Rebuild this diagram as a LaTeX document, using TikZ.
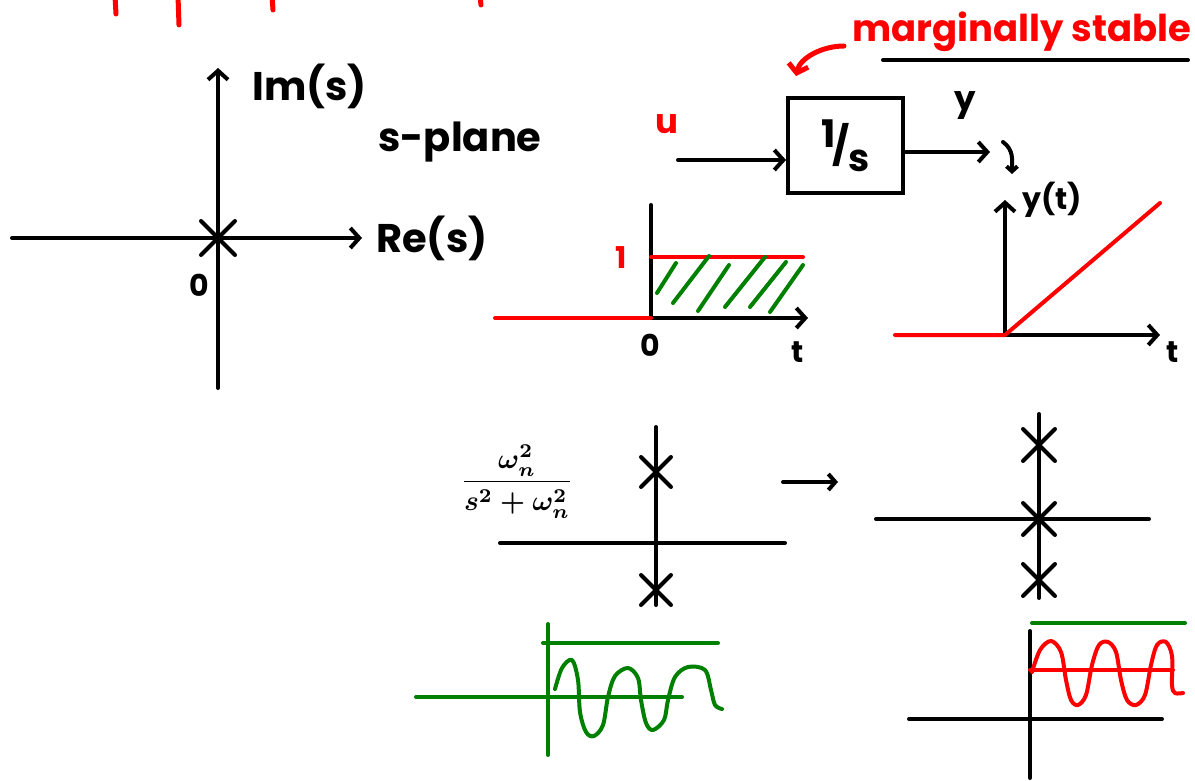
\documentclass[tikz,border=0pt]{standalone}
\usepackage{amsmath,bm}
\usepackage{fontspec}
\setmainfont{Poppins}
\usetikzlibrary{arrows.meta,positioning,shapes.misc}
\definecolor{inkred}{HTML}{FF0000}
\definecolor{inkgreen}{HTML}{008000}
\newcommand{\secondorder}{\scalebox{2.8}{\boldmath$\dfrac{\omega_n^2}{s^2+\omega_n^2}$}}
\tikzset{
  ink/.style={line width=4pt,line cap=round,line join=round},
  axisarrow/.style={ink,-{Straight Barb[length=9pt,width=20pt]}},
  polex/.style={cross out,draw,line width=4pt,line cap=round,minimum size=30pt,inner sep=0pt},
  hand/.style={font=\fontsize{40}{44}\selectfont\bfseries,inner sep=0pt},
  smallhand/.style={font=\fontsize{30}{34}\selectfont\bfseries,inner sep=0pt},
  blockbox/.style={draw,line width=4pt,minimum width=115pt,minimum height=95pt}
}

\begin{document}
\begin{tikzpicture}[x=1pt,y=-1pt]
\useasboundingbox (0,0) rectangle (1195,781);

% cut-off red writing at the top edge
\foreach \sx/\sl in {115/14,178/25,272/10,480/5}
  \draw[ink,inkred,line width=5pt] (\sx,-4) -- (\sx+1,\sl);

% s-plane
\coordinate (sOrig) at (218,238);
\coordinate (reLeft) at (12,238);
\coordinate (reTip) at (362,238);
\coordinate (imBot) at (218,388);
\coordinate (imTip) at (218,68);
\draw[axisarrow] (reLeft) -- (reTip);
\draw[axisarrow] (imBot) -- (imTip);
\node[polex] (p0) at (sOrig) {};
\node[hand,anchor=west] (imlab) at (252,86) {Im(s)};
\node[hand,right=14pt of reTip] (relab) {Re(s)};
\node[hand] (splane) at (460,142) {s-plane};
\node[smallhand] (zero1) at (199,285) {0};

% integrator block
\node[blockbox] (sys) at (845.5,145.5) {\fontsize{38}{40}\selectfont\bfseries\raisebox{12pt}{1}\hspace{-3pt}/\hspace{-2pt}\raisebox{-12pt}{s}};
\coordinate (uIn) at (678,160);
\coordinate (yOut) at (990,152);
\draw[axisarrow] (uIn) -- (uIn -| sys.west);
\draw[axisarrow] (sys.east |- yOut) -- (yOut);
\node[smallhand,inkred,font=\fontsize{34}{38}\selectfont\bfseries] (ulab) at (667,124) {u};
\node[smallhand,font=\fontsize{34}{38}\selectfont\bfseries] (ylab) at (965,106) {y};
\coordinate (hookA) at (1003,142);
\coordinate (hookB) at (1012,174);
\draw[ink,-{Straight Barb[length=5pt,width=11pt]}] (hookA) .. controls (1014,150) and (1012,160) .. (hookB);

% marginally stable
\node[hand,inkred,font=\fontsize{37}{40}\selectfont\bfseries] (margin) at (1022,32) {marginally stable};
\coordinate (ulA) at (883,60);
\coordinate (ulB) at (1188,60);
\draw[ink] (ulA) -- (ulB);
\coordinate (callA) at (844,46);
\coordinate (callB) at (796,76);
\draw[ink,inkred,line width=5pt,-{Straight Barb[length=8pt,width=20pt]}] (callA) .. controls (822,46) and (800,58) .. (callB);

% unit step input
\coordinate (stOrig) at (651,318);
\coordinate (stTop) at (651,205);
\coordinate (stLeft) at (495,318);
\coordinate (stTip) at (808,318);
\draw[ink] (stOrig) -- (stTop);
\draw[axisarrow] (stOrig) -- (stTip);
\draw[ink,inkred] (stLeft) -- (stOrig);
\draw[ink,inkred] (651,257) -- (803,257);
\foreach \ax/\ay/\bx/\by in {657/293/676/263, 673/303/709/256, 698/311/729/265,
                             725/307/765/257, 750/307/786/262, 770/312/803/265}
  \draw[ink,inkgreen] (\ax,\ay) -- (\bx,\by);
\node[smallhand,inkred] (one) at (621,258) {1};
\node[smallhand] (zero2) at (650,345) {0};
\node[smallhand] (tlab1) at (798,352) {t};

% ramp output
\coordinate (rpOrig) at (1005,335);
\coordinate (rpTop) at (1005,200);
\coordinate (rpLeft) at (895,335);
\coordinate (rpTip) at (1160,335);
\draw[axisarrow] (rpOrig) -- (rpTop);
\draw[axisarrow] (rpOrig) -- (rpTip);
\draw[ink,inkred] (rpLeft) -- (rpOrig) -- (1160,203);
\node[smallhand,anchor=west] (ytlab) at (1022,200) {y(t)};
\node[smallhand] (tlab2) at (1173,352) {t};

% second order system
\node[inner sep=0pt] (tf) at (517,482) {\secondorder};
\coordinate (soTop) at (656,427);
\coordinate (soBot) at (656,605);
\coordinate (soLeft) at (500,543);
\coordinate (soRight) at (785,543);
\draw[ink] (soTop) -- (soBot);
\draw[ink] (soLeft) -- (soRight);
\node[polex,minimum size=26pt] (p1) at (656,472) {};
\node[polex,minimum size=26pt] (p2) at (656,590) {};
\coordinate (toA) at (783,482);
\coordinate (toB) at (838,482);
\draw[ink,-{Straight Barb[length=7pt,width=16pt]}] (toA) -- (toB);

% with an extra pole at the origin
\coordinate (tpTop) at (1039,414);
\coordinate (tpBot) at (1039,598);
\coordinate (tpLeft) at (876,519);
\coordinate (tpRight) at (1149,519);
\draw[ink] (tpTop) -- (tpBot);
\draw[ink] (tpLeft) -- (tpRight);
\node[polex,minimum size=28pt] (p3) at (1039,445) {};
\node[polex,minimum size=28pt] (p4) at (1039,519) {};
\node[polex,minimum size=28pt] (p5) at (1039,580) {};

% oscillating response (green)
\draw[ink,inkgreen] (548,624) -- (548,755);
\draw[ink,inkgreen] (543,643) -- (718,643);
\draw[ink,inkgreen] (416,697) -- (682,697);
\draw[ink,inkgreen] plot[smooth,tension=0.55] coordinates {(555,689) (562,668) (572,660) (578,680) (580,712)
  (586,732) (594,736) (603,725) (608,697) (615,676) (628,668) (638,678) (641,700) (646,723) (653,730)
  (664,720) (668,700) (675,677) (688,667) (705,670) (711,690) (715,705) (722,709)};

% growing response (red)
\draw[ink] (1030,631) -- (1030,778);
\draw[ink] (909,719) -- (1162,719);
\draw[ink,inkgreen] (1032,623) -- (1185,623);
\draw[ink,inkred] (1030,670) -- (1173,670);
\draw[ink,inkred] plot[smooth,tension=0.55] coordinates {(1032,672) (1040,650) (1051,641) (1061,652)
  (1066,680) (1071,700) (1078,705) (1086,695) (1092,665) (1099,645) (1108,642) (1116,652) (1121,680)
  (1127,700) (1136,705) (1145,695) (1151,665) (1157,645) (1166,642) (1172,656) (1172,685) (1175,693) (1183,693)};
\end{tikzpicture}
\end{document}
